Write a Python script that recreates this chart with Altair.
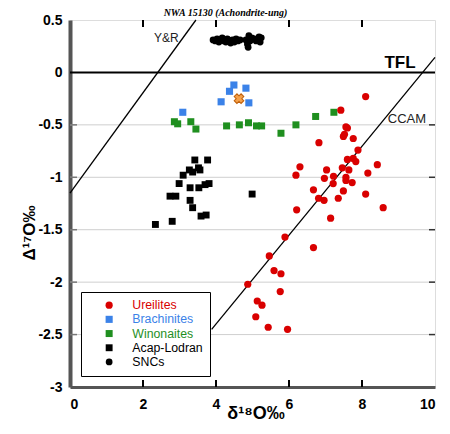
import altair as alt
import pandas as pd

# ---------------- data ----------------
ure_x = [8.10, 7.42, 7.56, 7.60, 7.52, 7.49, 7.76, 6.82, 7.89, 7.60, 7.76, 7.83, 8.42, 6.30,
         7.03, 7.46, 7.64, 8.16, 6.19, 6.97, 7.22, 7.56, 7.56, 7.73, 7.21, 6.67, 7.49, 8.10,
         6.81, 6.96, 7.35, 8.58, 6.21, 7.14, 5.89, 6.67, 5.46, 5.59, 5.78, 4.87, 5.76, 5.13,
         5.26, 5.09, 5.43, 5.96]
ure_y = [-0.23, -0.36, -0.52, -0.53, -0.59, -0.61, -0.63, -0.67, -0.74, -0.83, -0.82, -0.85,
         -0.88, -0.90, -0.93, -0.91, -0.93, -0.96, -0.98, -1.01, -0.99, -1.00, -1.03, -1.05,
         -1.06, -1.12, -1.13, -1.16, -1.20, -1.22, -1.20, -1.29, -1.31, -1.39, -1.57, -1.67,
         -1.75, -1.89, -1.92, -2.02, -2.09, -2.18, -2.22, -2.33, -2.43, -2.45]

bra_x = [4.49, 4.37, 4.82, 4.14, 4.90, 3.09]
bra_y = [-0.12, -0.18, -0.15, -0.28, -0.29, -0.38]

win_x = [2.86, 2.95, 3.31, 3.45, 4.29, 4.64, 4.89, 5.11, 5.25, 5.78, 6.19, 6.73, 7.23]
win_y = [-0.47, -0.49, -0.47, -0.54, -0.51, -0.50, -0.48, -0.51, -0.51, -0.58, -0.50, -0.42, -0.38]

aca_x = [3.42, 3.77, 3.52, 3.27, 3.56, 3.36, 3.10, 2.99, 3.29, 3.53, 3.70, 3.81, 2.74, 2.90,
         3.29, 3.36, 3.59, 3.73, 2.80, 2.34, 4.99]
aca_y = [-0.835, -0.835, -0.91, -0.93, -0.93, -0.95, -0.98, -1.06, -1.10, -1.10, -1.07, -1.06,
         -1.18, -1.18, -1.22, -1.29, -1.37, -1.36, -1.42, -1.45, -1.16]

snc_x = [3.92, 3.98, 4.03, 4.08, 4.12, 4.17, 4.22, 4.27, 4.31, 4.36, 4.40, 4.45, 4.50, 4.55,
         4.60, 4.66, 4.82, 4.86, 4.88, 4.93, 4.98, 5.05, 5.10, 5.18, 5.24, 5.21, 4.90]
snc_y = [0.31, 0.30, 0.32, 0.29, 0.31, 0.33, 0.30, 0.29, 0.32, 0.30, 0.28, 0.31, 0.29, 0.32,
         0.30, 0.31, 0.31, 0.27, 0.24, 0.30, 0.33, 0.32, 0.30, 0.34, 0.33, 0.29, 0.35]

nwa_x = [4.63]
nwa_y = [-0.25]

groups = ["Ureilites", "Brachinites", "Winonaites", "Acap-Lodran", "SNCs"]
group_colors = ["#d90000", "#3b82e8", "#1f8f1f", "#000000", "#000000"]
group_shapes = ["circle", "square", "square", "square", "circle"]
group_sizes = [52, 46, 46, 46, 14]

# reference lines (x1, y1, x2, y2)
line_names = ["Y&R", "CCAM"]
line_x1 = [0.0, 3.88]
line_y1 = [-1.15, -2.45]
line_x2 = [3.45, 10.0]
line_y2 = [0.5, 0.144]

x_ticks = [0, 2, 4, 6, 8, 10]
y_ticks = [-3, -2.5, -2, -1.5, -1, -0.5, 0, 0.5]
grid_y = [-2.5, -2, -1.5, -1, -0.5]
inner_x_ticks = [2, 4, 6, 8]

title_text = ["NWA 15130 (Achondrite-ung)"]

# ---------------- tables ----------------
rows = []
for g, xs_, ys_ in [("SNCs", snc_x, snc_y), ("Acap-Lodran", aca_x, aca_y),
                    ("Winonaites", win_x, win_y), ("Brachinites", bra_x, bra_y),
                    ("Ureilites", ure_x, ure_y)]:
    for a, b in zip(xs_, ys_):
        rows.append({"x": a, "y": b, "group": g})
pts = pd.DataFrame(rows)
nwa = pd.DataFrame({"x": nwa_x, "y": nwa_y})
lines = pd.DataFrame({"name": line_names, "x1": line_x1, "y1": line_y1,
                      "x2": line_x2, "y2": line_y2})
grid = pd.DataFrame({"y": grid_y})
tfl = pd.DataFrame({"y": [0]})
xt = pd.DataFrame({"x": inner_x_ticks})
ttl = pd.DataFrame({"t": title_text})

W, H = 365, 367
xs = alt.Scale(domain=[0, 10], nice=False, zero=False)
ys = alt.Scale(domain=[-3, 0.5], nice=False, zero=False)

label_color_expr = ("datum.label == 'Ureilites' ? '#d90000' : datum.label == 'Brachinites' ? "
                    "'#3b82e8' : datum.label == 'Winonaites' ? '#1f8f1f' : 'black'")

grid_layer = alt.Chart(grid).mark_rule(color="#cfcfcf", strokeWidth=1).encode(
    y=alt.Y("y:Q", scale=ys,
            axis=alt.Axis(values=y_ticks, title="Δ¹⁷O‰", labelExpr="toString(datum.value)",
                          labelFont="Liberation Sans", labelFontWeight="bold", labelFontSize=14,
                          labelColor="black", labelPadding=8, ticks=False, grid=False,
                          domainColor="#555555", domainWidth=4,
                          titleFont="Liberation Sans", titleFontWeight="bold", titleFontSize=17,
                          titleColor="black", titleX=-36, titleY=H / 2 + 29, titleAngle=270,
                          titleAlign="center", titleBaseline="alphabetic")),
)

right_ticks = alt.Chart(grid).mark_rule(color="#333333", strokeWidth=1.5).encode(
    y=alt.Y("y:Q", scale=ys), x=alt.value(W - 6), x2=alt.value(W))
left_ticks = alt.Chart(grid).mark_rule(color="#777777", strokeWidth=1.5).encode(
    y=alt.Y("y:Q", scale=ys), x=alt.value(0), x2=alt.value(7))

top_ticks = alt.Chart(xt).mark_rule(color="black", strokeWidth=2).encode(
    x=alt.X("x:Q", scale=xs,
            axis=alt.Axis(values=x_ticks, title="δ¹⁸O‰", labelFont="Liberation Sans",
                          labelFontWeight="bold", labelFontSize=14, labelColor="black",
                          labelPadding=10, ticks=False, grid=False,
                          domainColor="#555555", domainWidth=3,
                          titleFont="Liberation Sans", titleFontWeight="bold", titleFontSize=18,
                          titleColor="black", titleX=W / 2 + 3, titleY=31,
                          titleBaseline="alphabetic")),
    y=alt.value(0), y2=alt.value(7))
bottom_ticks = alt.Chart(xt).mark_rule(color="black", strokeWidth=2).encode(
    x=alt.X("x:Q", scale=xs), y=alt.value(H - 7), y2=alt.value(H))

tfl_layer = alt.Chart(tfl).mark_rule(color="black", strokeWidth=2).encode(
    y=alt.Y("y:Q", scale=ys))

line_layer = alt.Chart(lines).mark_rule(color="black", strokeWidth=1.3).encode(
    x=alt.X("x1:Q", scale=xs), y=alt.Y("y1:Q", scale=ys), x2="x2:Q", y2="y2:Q")

pt_layer = alt.Chart(pts).mark_point(filled=True, opacity=1, strokeWidth=0).encode(
    x=alt.X("x:Q", scale=xs),
    y=alt.Y("y:Q", scale=ys),
    color=alt.Color("group:N", scale=alt.Scale(domain=groups, range=group_colors),
                    legend=alt.Legend(title=None, orient="none", legendX=11, legendY=272,
                                      strokeColor="black", fillColor="white", padding=7,
                                      symbolOffset=15, labelOffset=17,
                                      labelFont="Liberation Sans", labelFontSize=12.3,
                                      labelColor={"expr": label_color_expr},
                                      rowPadding=1.2, symbolStrokeWidth=0,
                                      cornerRadius=0)),
    shape=alt.Shape("group:N", scale=alt.Scale(domain=groups, range=group_shapes)),
    size=alt.Size("group:N", scale=alt.Scale(domain=groups, range=group_sizes)),
)

nwa_layer = alt.Chart(nwa).mark_point(shape="cross", filled=True, fill="#f5a14a",
                                      stroke="#c0600a", strokeWidth=1, size=95, angle=45,
                                      opacity=1).encode(
    x=alt.X("x:Q", scale=xs), y=alt.Y("y:Q", scale=ys))

ann = pd.DataFrame({"x": [2.64], "y": [0.29], "t": ["Y&R"]})
ann_yr = alt.Chart(ann).mark_text(font="Liberation Sans", fontSize=12, color="#222222",
                                  align="center", baseline="alphabetic").encode(
    x=alt.X("x:Q", scale=xs), y=alt.Y("y:Q", scale=ys), text="t:N")
ann2 = pd.DataFrame({"x": [9.04], "y": [0.04], "t": ["TFL"]})
ann_tfl = alt.Chart(ann2).mark_text(font="Liberation Sans", fontSize=17, fontWeight="bold",
                                    color="black", align="center",
                                    baseline="alphabetic").encode(
    x=alt.X("x:Q", scale=xs), y=alt.Y("y:Q", scale=ys), text="t:N")
ann3 = pd.DataFrame({"x": [9.23], "y": [-0.48], "t": ["CCAM"]})
ann_ccam = alt.Chart(ann3).mark_text(font="Liberation Sans", fontSize=13, color="#222222",
                                     align="center", baseline="alphabetic").encode(
    x=alt.X("x:Q", scale=xs), y=alt.Y("y:Q", scale=ys), text="t:N")

title_layer = alt.Chart(ttl).mark_text(font="Liberation Serif", fontSize=10, fontWeight="bold",
                                       fontStyle="italic", color="black", align="center",
                                       baseline="alphabetic").encode(
    x=alt.value(W / 2 - 27), y=alt.value(-4), text="t:N")

chart = alt.layer(
    grid_layer, left_ticks, right_ticks, top_ticks, bottom_ticks, tfl_layer, line_layer,
    pt_layer, nwa_layer, ann_yr, ann_tfl, ann_ccam, title_layer
).properties(
    width=W, height=H,
    autosize=alt.AutoSizeParams(type="none"),
    padding={"left": 62, "top": 12, "right": 7, "bottom": 39},
).configure_view(stroke="#111111", strokeWidth=3, fill="white").configure(background="white")

chart.save("out.html", embed_options={"renderer": "svg", "actions": False})
